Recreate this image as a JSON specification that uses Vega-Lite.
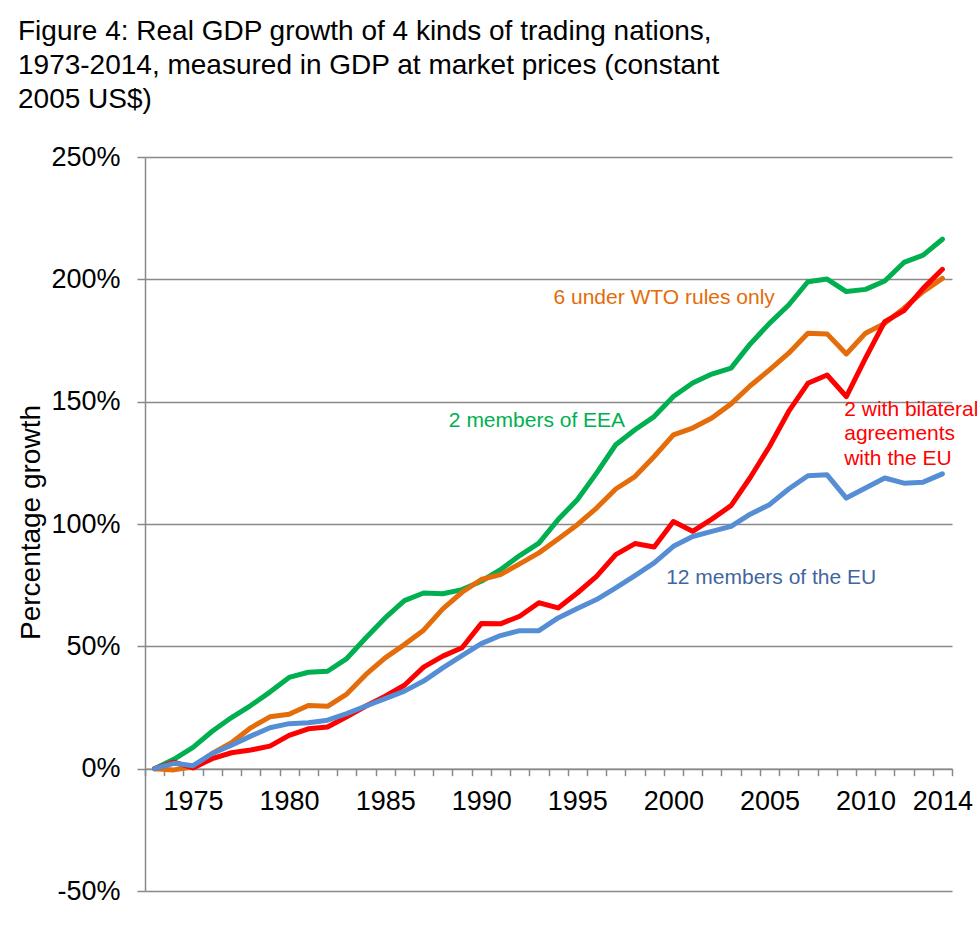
{
  "$schema": "https://vega.github.io/schema/vega-lite/v6.json",
  "width": 807,
  "height": 734,
  "autosize": {"type": "none"},
  "padding": {"left": 145, "top": 157, "right": 25, "bottom": 41},
  "background": "white",
  "config": {"view": {"stroke": null}, "font": "Liberation Sans"},
  "title": {
    "text": ["Figure 4: Real GDP growth of 4 kinds of trading nations,", "1973-2014, measured in GDP at market prices (constant", "2005 US$)"],
    "anchor": "start",
    "frame": "group",
    "font": "Liberation Sans",
    "fontSize": 28,
    "fontWeight": "normal",
    "color": "black",
    "lineHeight": 34,
    "baseline": "top",
    "dx": -127,
    "dy": -25
  },
  "data": {
    "values": [
      {"year": 1973, "EEA": 0, "WTO": 0, "BIL": 0, "EU": 0},
      {"year": 1974, "EEA": 3.8, "WTO": -0.5, "BIL": 2.7, "EU": 2.2},
      {"year": 1975, "EEA": 8.7, "WTO": 0.8, "BIL": 0.3, "EU": 1.2},
      {"year": 1976, "EEA": 15.3, "WTO": 6.2, "BIL": 4.1, "EU": 6.2},
      {"year": 1977, "EEA": 20.9, "WTO": 10.6, "BIL": 6.5, "EU": 9.6},
      {"year": 1978, "EEA": 25.8, "WTO": 16.7, "BIL": 7.6, "EU": 13.3},
      {"year": 1979, "EEA": 31.3, "WTO": 21.2, "BIL": 9.2, "EU": 16.7},
      {"year": 1980, "EEA": 37.3, "WTO": 22.2, "BIL": 13.6, "EU": 18.4},
      {"year": 1981, "EEA": 39.4, "WTO": 25.8, "BIL": 16.3, "EU": 18.8},
      {"year": 1982, "EEA": 39.8, "WTO": 25.5, "BIL": 17.0, "EU": 19.8},
      {"year": 1983, "EEA": 45.0, "WTO": 30.5, "BIL": 21.2, "EU": 22.5},
      {"year": 1984, "EEA": 53.5, "WTO": 38.5, "BIL": 25.6, "EU": 25.6},
      {"year": 1985, "EEA": 61.6, "WTO": 45.3, "BIL": 29.6, "EU": 28.6},
      {"year": 1986, "EEA": 68.7, "WTO": 50.7, "BIL": 34.1, "EU": 31.7},
      {"year": 1987, "EEA": 71.8, "WTO": 56.6, "BIL": 41.5, "EU": 35.8},
      {"year": 1988, "EEA": 71.5, "WTO": 65.3, "BIL": 46.0, "EU": 41.2},
      {"year": 1989, "EEA": 73.2, "WTO": 72.1, "BIL": 49.4, "EU": 46.2},
      {"year": 1990, "EEA": 76.6, "WTO": 77.3, "BIL": 59.3, "EU": 51.1},
      {"year": 1991, "EEA": 81.3, "WTO": 79.3, "BIL": 59.2, "EU": 54.4},
      {"year": 1992, "EEA": 87.1, "WTO": 83.7, "BIL": 62.3, "EU": 56.4},
      {"year": 1993, "EEA": 92.2, "WTO": 88.2, "BIL": 67.8, "EU": 56.4},
      {"year": 1994, "EEA": 101.8, "WTO": 93.9, "BIL": 65.7, "EU": 61.6},
      {"year": 1995, "EEA": 109.9, "WTO": 99.7, "BIL": 71.8, "EU": 65.5},
      {"year": 1996, "EEA": 120.8, "WTO": 106.5, "BIL": 78.6, "EU": 69.1},
      {"year": 1997, "EEA": 132.4, "WTO": 114.3, "BIL": 87.5, "EU": 73.9},
      {"year": 1998, "EEA": 138.5, "WTO": 119.4, "BIL": 92.0, "EU": 78.9},
      {"year": 1999, "EEA": 143.9, "WTO": 127.6, "BIL": 90.6, "EU": 84.1},
      {"year": 2000, "EEA": 152.1, "WTO": 136.4, "BIL": 101.0, "EU": 90.9},
      {"year": 2001, "EEA": 157.6, "WTO": 139.2, "BIL": 97.0, "EU": 94.9},
      {"year": 2002, "EEA": 161.3, "WTO": 143.3, "BIL": 102.0, "EU": 97.0},
      {"year": 2003, "EEA": 163.7, "WTO": 149.1, "BIL": 107.5, "EU": 99.0},
      {"year": 2004, "EEA": 173.6, "WTO": 156.5, "BIL": 119.0, "EU": 104.0},
      {"year": 2005, "EEA": 182.0, "WTO": 163.0, "BIL": 131.7, "EU": 107.9},
      {"year": 2006, "EEA": 189.5, "WTO": 169.8, "BIL": 146.0, "EU": 114.3},
      {"year": 2007, "EEA": 199.0, "WTO": 178.0, "BIL": 157.5, "EU": 119.7},
      {"year": 2008, "EEA": 200.1, "WTO": 177.7, "BIL": 160.9, "EU": 120.1},
      {"year": 2009, "EEA": 195.0, "WTO": 169.5, "BIL": 152.1, "EU": 110.6},
      {"year": 2010, "EEA": 195.9, "WTO": 178.0, "BIL": 167.8, "EU": 114.7},
      {"year": 2011, "EEA": 199.3, "WTO": 182.0, "BIL": 182.7, "EU": 118.8},
      {"year": 2012, "EEA": 206.9, "WTO": 188.2, "BIL": 187.2, "EU": 116.7},
      {"year": 2013, "EEA": 209.9, "WTO": 195.0, "BIL": 196.3, "EU": 117.1},
      {"year": 2014, "EEA": 216.4, "WTO": 200.4, "BIL": 204.1, "EU": 120.5}
    ]
  },
  "layer": [
    {
      "mark": {"type": "line", "color": "#00B050", "strokeWidth": 5, "strokeJoin": "round", "strokeCap": "round"},
      "encoding": {
        "x": {
          "field": "year", "type": "quantitative",
          "scale": {"domain": [1972.5, 2014.5], "nice": false, "zero": false},
          "axis": {
            "values": [1972.5, 1973.5, 1974.5, 1975.5, 1976.5, 1977.5, 1978.5, 1979.5, 1980.5, 1981.5, 1982.5, 1983.5, 1984.5, 1985.5, 1986.5, 1987.5, 1988.5, 1989.5, 1990.5, 1991.5, 1992.5, 1993.5, 1994.5, 1995.5, 1996.5, 1997.5, 1998.5, 1999.5, 2000.5, 2001.5, 2002.5, 2003.5, 2004.5, 2005.5, 2006.5, 2007.5, 2008.5, 2009.5, 2010.5, 2011.5, 2012.5, 2013.5, 2014.5],
            "tickCount": 100,
            "labelExpr": "(datum.value < 2014 && ((datum.value + 0.5) % 5 == 0 || datum.value == 2013.5)) ? format(datum.value + 0.5, 'd') : ''",
            "labelOffset": 9.6,
            "labelOverlap": false,
            "labelFlush": false,
            "labelBound": false,
            "labelFont": "Liberation Sans",
            "labelFontSize": 27,
            "labelColor": "black",
            "labelPadding": 13,
            "tickSize": 7,
            "tickColor": "#898989",
            "tickWidth": 1.5,
            "domainColor": "#898989",
            "domainWidth": 1.5,
            "grid": false,
            "offset": -122.33,
            "title": null
          }
        },
        "y": {
          "field": "EEA", "type": "quantitative",
          "scale": {"domain": [-50, 250], "nice": false, "zero": false},
          "axis": {
            "values": [-50, 0, 50, 100, 150, 200, 250],
            "tickCount": 20,
            "labelExpr": "datum.value + '%'",
            "grid": true,
            "gridColor": "#898989",
            "gridWidth": 1.5,
            "tickSize": 8,
            "tickColor": "#898989",
            "tickWidth": 1.5,
            "domainColor": "#898989",
            "domainWidth": 1.5,
            "labelFont": "Liberation Sans",
            "labelFontSize": 27,
            "labelColor": "black",
            "labelPadding": 17,
            "title": "Percentage growth",
            "titleFont": "Liberation Sans",
            "titleFontSize": 28,
            "titleFontWeight": "normal",
            "titleColor": "black",
            "titleAngle": -90,
            "titleAlign": "center",
            "titleBaseline": "middle",
            "titleX": -114,
            "titleY": 365
          }
        }
      }
    },
    {
      "mark": {"type": "line", "color": "#E46C0A", "strokeWidth": 5, "strokeJoin": "round", "strokeCap": "round"},
      "encoding": {
        "x": {"field": "year", "type": "quantitative", "scale": {"domain": [1972.5, 2014.5], "nice": false, "zero": false}},
        "y": {"field": "WTO", "type": "quantitative", "scale": {"domain": [-50, 250], "nice": false, "zero": false}}
      }
    },
    {
      "mark": {"type": "line", "color": "#FF0000", "strokeWidth": 5, "strokeJoin": "round", "strokeCap": "round"},
      "encoding": {
        "x": {"field": "year", "type": "quantitative", "scale": {"domain": [1972.5, 2014.5], "nice": false, "zero": false}},
        "y": {"field": "BIL", "type": "quantitative", "scale": {"domain": [-50, 250], "nice": false, "zero": false}}
      }
    },
    {
      "mark": {"type": "line", "color": "#558ED5", "strokeWidth": 5, "strokeJoin": "round", "strokeCap": "round"},
      "encoding": {
        "x": {"field": "year", "type": "quantitative", "scale": {"domain": [1972.5, 2014.5], "nice": false, "zero": false}},
        "y": {"field": "EU", "type": "quantitative", "scale": {"domain": [-50, 250], "nice": false, "zero": false}}
      }
    },
    {
      "data": {"values": [{}]},
      "mark": {"type": "text", "text": "6 under WTO rules only", "color": "#E36C09", "font": "Liberation Sans", "fontSize": 21, "align": "center", "baseline": "middle"},
      "encoding": {
        "x": {"datum": 1999.52, "type": "quantitative", "scale": {"domain": [1972.5, 2014.5], "nice": false, "zero": false}},
        "y": {"datum": 192.5, "type": "quantitative", "scale": {"domain": [-50, 250], "nice": false, "zero": false}}
      }
    },
    {
      "data": {"values": [{}]},
      "mark": {"type": "text", "text": "2 members of EEA", "color": "#00B050", "font": "Liberation Sans", "fontSize": 21, "align": "center", "baseline": "middle"},
      "encoding": {
        "x": {"datum": 1992.9, "type": "quantitative", "scale": {"domain": [1972.5, 2014.5], "nice": false, "zero": false}},
        "y": {"datum": 141.9, "type": "quantitative", "scale": {"domain": [-50, 250], "nice": false, "zero": false}}
      }
    },
    {
      "data": {"values": [{}]},
      "mark": {"type": "text", "text": "12 members of the EU", "color": "#3F66A0", "font": "Liberation Sans", "fontSize": 21, "align": "center", "baseline": "middle"},
      "encoding": {
        "x": {"datum": 2005.09, "type": "quantitative", "scale": {"domain": [1972.5, 2014.5], "nice": false, "zero": false}},
        "y": {"datum": 77.8, "type": "quantitative", "scale": {"domain": [-50, 250], "nice": false, "zero": false}}
      }
    },
    {
      "data": {"values": [{}]},
      "mark": {"type": "text", "text": "2 with bilateral\nagreements\nwith the EU", "lineBreak": "\n", "lineHeight": 24.3, "color": "#FF0000", "font": "Liberation Sans", "fontSize": 21, "align": "left", "baseline": "middle"},
      "encoding": {
        "x": {"datum": 2008.89, "type": "quantitative", "scale": {"domain": [1972.5, 2014.5], "nice": false, "zero": false}},
        "y": {"datum": 146.6, "type": "quantitative", "scale": {"domain": [-50, 250], "nice": false, "zero": false}}
      }
    }
  ]
}
